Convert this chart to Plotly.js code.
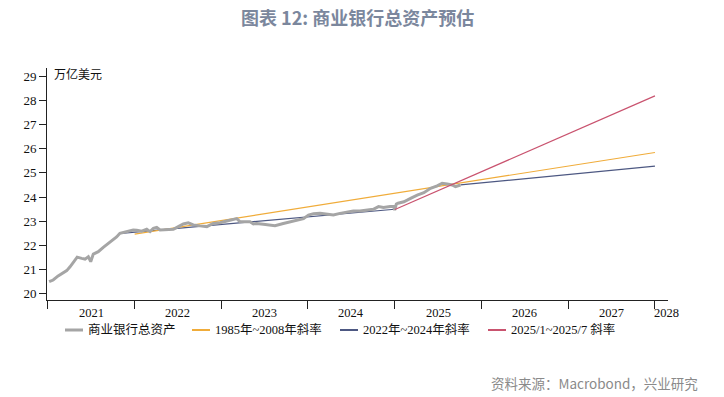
<!DOCTYPE html>
<html>
<head>
<meta charset="utf-8">
<script src="https://cdn.plot.ly/plotly-3.0.1.min.js"></script>
<style>html,body{margin:0;padding:0;background:#fff;}#chart{width:724px;height:397px;}</style>
</head>
<body>
<div id="chart"></div>
<script>
// ---- data ----
const bankDates = [
 '2021-01-06','2021-01-23','2021-02-13','2021-03-06','2021-03-21','2021-04-04','2021-04-18','2021-05-04',
 '2021-05-23','2021-06-06','2021-06-20','2021-06-30','2021-07-11','2021-08-01','2021-08-22','2021-09-12',
 '2021-10-03','2021-10-17','2021-10-31','2021-11-29','2021-12-26','2022-01-10','2022-01-31','2022-02-21',
 '2022-03-07','2022-03-21','2022-04-04','2022-04-18','2022-05-16','2022-06-13','2022-07-04','2022-07-25',
 '2022-08-15','2022-09-05','2022-10-03','2022-11-01','2022-11-28','2022-12-27','2023-01-24','2023-02-14',
 '2023-03-07','2023-03-21','2023-04-18','2023-05-02','2023-05-16','2023-05-30','2023-06-27','2023-07-25',
 '2023-08-15','2023-09-19','2023-10-18','2023-11-21','2023-12-13','2024-01-03','2024-01-24','2024-02-21',
 '2024-03-20','2024-04-17','2024-05-15','2024-06-12','2024-07-10','2024-08-07','2024-09-05','2024-10-02',
 '2024-10-24','2024-11-14','2024-12-12','2024-12-27','2024-12-31','2025-01-07','2025-01-14','2025-02-08',
 '2025-03-08','2025-04-05','2025-05-03','2025-05-31','2025-06-28','2025-07-19','2025-08-09','2025-08-30',
 '2025-09-13','2025-10-04'
];
const bankAssets = [
 20.48,20.55,20.72,20.83,20.94,21.10,21.27,21.50,
 21.45,21.42,21.52,21.31,21.63,21.73,21.91,22.08,
 22.22,22.34,22.49,22.56,22.63,22.62,22.58,22.66,
 22.56,22.70,22.74,22.63,22.63,22.66,22.77,22.88,
 22.93,22.84,22.80,22.77,22.90,22.93,23.00,23.04,
 23.10,22.97,22.97,22.97,22.88,22.90,22.87,22.84,
 22.81,22.90,22.97,23.04,23.10,23.25,23.30,23.32,
 23.28,23.25,23.32,23.36,23.42,23.42,23.46,23.49,
 23.60,23.56,23.60,23.60,23.46,23.71,23.74,23.80,
 23.94,24.08,24.18,24.36,24.46,24.57,24.54,24.50,
 24.43,24.50
];
const slopeA_dates = ['2022-01-01','2028-01-01'];
const slopeA_vals  = [22.46, 25.85];
const slopeB_dates = ['2021-11-05','2024-12-31','2025-01-01','2025-10-04','2028-01-01'];
const slopeB_vals  = [22.49, 23.49, null, 24.50, 25.28];
const slopeC_dates = ['2025-01-01','2028-01-01'];
const slopeC_vals  = [23.48, 28.20];

const seriesNames = ['商业银行总资产','1985年~2008年斜率','2022年~2024年斜率','2025/1~2025/7 斜率'];
const seriesColors = ['#a5a5a5','#f0ac3a','#4d5882','#c9536f'];
const seriesWidths = [3, 1.2, 1.2, 1.2];

const yearTicks = ['2021-01-01','2022-01-01','2023-01-01','2024-01-01','2025-01-01','2026-01-01','2027-01-01','2028-01-01'];
const yearLabelPos = ['2021-07-02','2022-07-02','2023-07-02','2024-07-02','2025-07-02','2026-07-02','2027-07-02','2028-02-18'];
const yearLabels = ['2021','2022','2023','2024','2025','2026','2027','2028'];
const yTicks = [20,21,22,23,24,25,26,27,28,29];

const titleText = '图表 12: 商业银行总资产预估';
const unitText = '万亿美元';
const sourceText = '资料来源：Macrobond，兴业研究';

// ---- traces ----
const xs = [bankDates, slopeA_dates, slopeB_dates, slopeC_dates];
const ys = [bankAssets, slopeA_vals, slopeB_vals, slopeC_vals];
const traces = xs.map((x, i) => ({
  type: 'scatter', mode: 'lines', x: x, y: ys[i], name: seriesNames[i],
  line: {color: seriesColors[i], width: seriesWidths[i]},
  connectgaps: false, showlegend: false, hoverinfo: 'skip'
}));
const ordered = [traces[2], traces[1], traces[0], traces[3]];

const xRange = ['2020-12-28','2028-02-25'];
const serif = 'Liberation Serif, Noto Sans CJK SC, serif';
const cjk = 'Noto Sans CJK SC, sans-serif';

const shapes = [];
const annotations = [];
// year labels (x axis)
yearLabels.forEach((lab, i) => {
  annotations.push({xref: 'x', yref: 'paper', x: yearLabelPos[i], y: -0.056, xanchor: 'center', yanchor: 'middle',
    text: lab, showarrow: false, borderpad: 0, font: {family: serif, size: 12.5, color: '#111'}});
});
// custom legend
const legX = [0.029, 0.2335, 0.4718, 0.7101];
const legY = -0.1293;
legX.forEach((lx, i) => {
  shapes.push({type: 'line', xref: 'paper', yref: 'paper', x0: lx, x1: lx + 0.029, y0: legY, y1: legY,
    line: {color: seriesColors[i], width: i === 0 ? 3 : 2}});
  annotations.push({xref: 'paper', yref: 'paper', x: lx + 0.036, y: legY, xanchor: 'left', yanchor: 'middle',
    text: seriesNames[i], showarrow: false, borderpad: 0, font: {family: serif, size: 12.5, color: '#111'}});
});
annotations.push({xref: 'paper', yref: 'paper', x: 0.008, y: 0.970, xanchor: 'left', yanchor: 'middle',
  text: unitText, showarrow: false, font: {family: serif, size: 12, color: '#111'}});
annotations.push({xref: 'paper', yref: 'paper', x: 1.0515, y: -0.358, xanchor: 'right', yanchor: 'middle',
  text: sourceText, showarrow: false, font: {family: cjk, size: 13.5, color: '#8a8a8a'}});

const layout = {
  width: 724, height: 397,
  margin: {l: 47, r: 56, t: 68, b: 97},
  paper_bgcolor: '#fff', plot_bgcolor: '#fff',
  title: {text: '<b>' + titleText + '</b>', x: 0.494, xref: 'container', y: 0.952, yref: 'container',
    xanchor: 'center', yanchor: 'middle', font: {family: cjk, size: 18, color: '#7b879d'}},
  xaxis: {type: 'date', range: xRange, tickvals: yearTicks, ticktext: yearTicks.map(() => ''),
    ticks: 'outside', ticklen: 8, tickwidth: 1, tickcolor: '#222', showline: true, linecolor: '#222', linewidth: 1,
    showgrid: false, zeroline: false, fixedrange: true},
  yaxis: {range: [19.72, 29.36], tickvals: yTicks, ticks: 'outside', ticklen: 7, tickwidth: 1, tickcolor: '#222',
    showline: true, linecolor: '#222', linewidth: 1, showgrid: false, zeroline: false,
    tickfont: {family: serif, size: 13, color: '#111'}},
  shapes: shapes,
  annotations: annotations,
  showlegend: false
};

Plotly.newPlot('chart', ordered, layout, {displayModeBar: false, staticPlot: true});
</script>
</body>
</html>
